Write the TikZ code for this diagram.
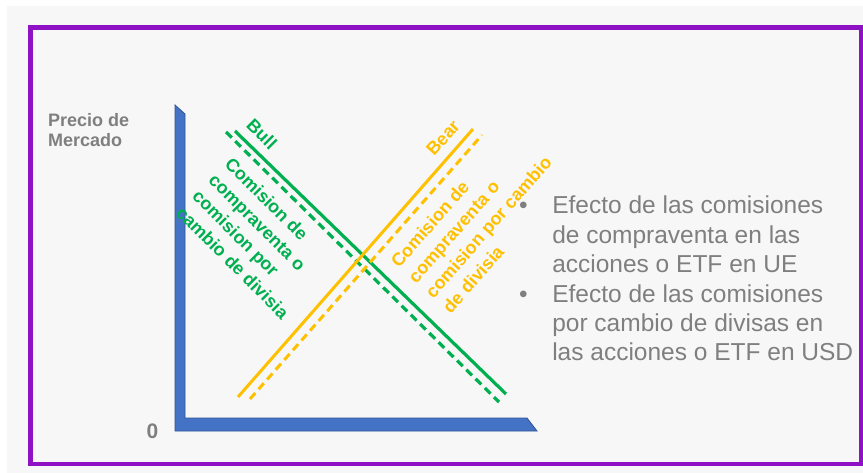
\documentclass[tikz,border=0pt]{standalone}
\usepackage{fontspec}
\setmainfont{Liberation Sans}
\definecolor{bggray}{HTML}{F7F7F7}
\definecolor{framepurple}{RGB}{142,18,196}
\definecolor{axisblue}{HTML}{4472C4}
\definecolor{axisedge}{HTML}{2F5597}
\definecolor{bullgreen}{HTML}{00B050}
\definecolor{bearyellow}{HTML}{FFC000}
\definecolor{txtgray}{HTML}{7F7F7F}
\tikzset{
  bullline/.style={draw=bullgreen, line width=3.2pt},
  bulldash/.style={bullline, dash pattern=on 8pt off 5pt},
  bearline/.style={draw=bearyellow, line width=3pt},
  beardash/.style={bearline, dash pattern=on 8pt off 5pt},
  curvelbl/.style={inner sep=0pt, font=\fontsize{18}{23}\selectfont\bfseries},
}
\begin{document}
\begin{tikzpicture}[x=1pt,y=-1pt]
\useasboundingbox (0,0) rectangle (863,473);
\fill[white] (0,0) rectangle (863,473);
\fill[bggray] (7,6) rectangle (863,473);
\draw[framepurple, line width=4.5pt] (30.5,27.5) rectangle (861.5,464);

% axes
\filldraw[fill=axisblue, draw=axisedge, line width=0.8pt]
  (175,105) -- (185,114) -- (185,418) -- (527,418) -- (537,431) -- (175,431) -- cycle;

% curve end points
\coordinate (bullA) at (235,131);
\coordinate (bullB) at (506,394);
\coordinate (bulldA) at (226,132);
\coordinate (bulldB) at (499,402);
\coordinate (bearA) at (238,397);
\coordinate (bearB) at (473,129);
\coordinate (beardA) at (250,399);
\coordinate (beardB) at (482,135);

\draw[bullline] (bullA) -- (bullB);
\draw[bulldash] (bulldA) -- (bulldB);
\draw[bearline] (bearA) -- (bearB);
\draw[beardash] (beardA) -- (beardB);

% labels
\node[curvelbl, text=bullgreen, rotate=-45] (bull) at (262,134) {Bull};
\node[curvelbl, text=bearyellow, rotate=48] (bear) at (443,138) {Bear};
\node[curvelbl, text=bullgreen, rotate=-45, anchor=west, align=left] (bulltxt) at (204,185)
  {Comision de\\compraventa o\\comision por\\cambio de divisia};
\node[curvelbl, text=bearyellow, rotate=48.8, anchor=west, align=left] (beartxt) at (420,287.5)
  {Comision de\\compraventa o\\comision por cambio\\de divisia};

\node[anchor=base west, inner sep=0pt, text=txtgray, font=\fontsize{18}{20}\selectfont\bfseries] (ylabel) at (48,127)
  {\begin{tabular}[t]{@{}l@{}}Precio de\\Mercado\end{tabular}};
\node[inner sep=0pt, text=txtgray, font=\fontsize{21}{21}\selectfont\bfseries] (zero) at (152.5,431) {0};

\node[anchor=base west, inner sep=0pt, text=txtgray, font=\fontsize{24.5}{29.4}\selectfont] (bullets) at (519,214)
  {\begin{tabular}[t]{@{}l@{\hspace{24.5pt}}l@{}}
  \textbullet & Efecto de las comisiones\\
   & de compraventa en las\\
   & acciones o ETF en UE\\
  \textbullet & Efecto de las comisiones\\
   & por cambio de divisas en\\
   & las acciones o ETF en USD
  \end{tabular}};
\end{tikzpicture}
\end{document}
